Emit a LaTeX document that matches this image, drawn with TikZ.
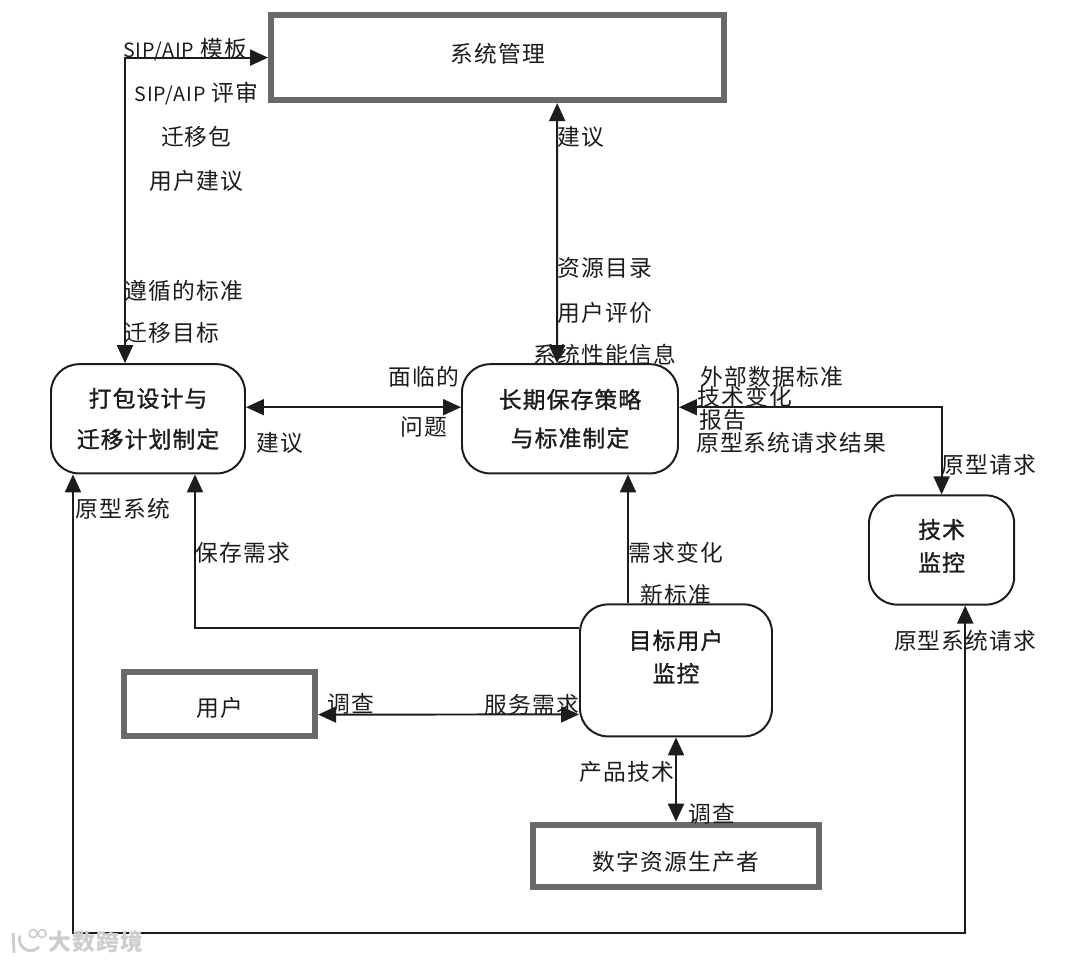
\documentclass[tikz,border=0pt]{standalone}
\usepackage{fontspec}
\setmainfont{Noto Sans CJK SC}[LetterSpace=5]
\newfontfamily\boxfont{Noto Sans CJK SC}[LetterSpace=5, FakeBold=1.3]
\usepackage{tikz}
\usetikzlibrary{arrows.meta, positioning}
\definecolor{inkcolor}{RGB}{28,28,28}
\definecolor{rimcolor}{RGB}{105,105,105}
\definecolor{markcolor}{RGB}{205,205,205}
\newcommand{\sipaip}{{\fontsize{14}{20}\selectfont SIP/AIP}}
\newcommand{\lift}[2]{\raisebox{#1}[\height][\depth]{#2}}
\tikzset{
  process/.style={draw=inkcolor, rounded corners=0.7cm, line width=1.4pt,
                  text=inkcolor, align=center,
                  font=\fontsize{16.2}{23.5}\selectfont\boxfont},
  extern/.style={draw=rimcolor, line width=4.2pt, text=inkcolor, align=center,
                 font=\fontsize{16.2}{20}\selectfont},
  arrow/.style={-{Triangle[length=0.45cm, width=0.4cm]}, line width=1.4pt,
                draw=inkcolor},
  darrow/.style={{Triangle[length=0.45cm, width=0.4cm]}-{Triangle[length=0.45cm, width=0.4cm]},
                 line width=1.4pt, draw=inkcolor},
  label/.style={font=\fontsize{16.2}{20}\selectfont, text=inkcolor},
  wmark/.style={font=\fontsize{16.2}{20}\selectfont\bfseries, text=markcolor},
  wdot/.style={circle, draw=markcolor, line width=1.2pt, minimum size=0.2cm, inner sep=0pt},
}
\begin{document}
\begin{tikzpicture}[on grid]
  \useasboundingbox (0,0) rectangle (27,-24);

  % --- External entities ---
  \node[extern, minimum width=11.33cm, minimum height=2.13cm] (sysmgmt) at (12.44,-1.44)
    {\lift{0.1cm}{系统管理}};

  % --- Processes ---
  \node[process, minimum width=4.85cm, minimum height=2.73cm, below left=9.03cm and 8.74cm of sysmgmt]
    (pack) {打包设计与\\[5.5pt]迁移计划制定};
  \node[process, minimum width=5.4cm, minimum height=2.73cm, right=10.55cm of pack]
    (strategy) {长期保存策略\\[4pt]与标准制定};
  \node[process, minimum width=3.63cm, minimum height=2.73cm, below right=3.28cm and 9.29cm of strategy]
    (tech) {\lift{0.1cm}{技术}\\\lift{0.1cm}{监控}};
  \node[process, minimum width=4.8cm, minimum height=3.3cm, below right=6.29cm and 2.65cm of strategy]
    (target) {\lift{0.34cm}{目标用户}\\\lift{0.34cm}{监控}};

  \node[extern, minimum width=4.78cm, minimum height=1.6cm, below left=0.83cm and 11.41cm of target]
    (user) {\lift{-0.1cm}{用户}};
  \node[extern, minimum width=7.15cm, minimum height=1.55cm, below=4.63cm of target]
    (producer) {\lift{-0.15cm}{数字资源生产者}};

  \coordinate[below=1.93cm of producer] (base);

  % --- Arrows ---
  \draw[darrow] ([xshift=-0.575cm]pack.north) |- (sysmgmt.west);
  \draw[darrow] ([xshift=-0.325cm]strategy.north) -- ([xshift=1.49cm]sysmgmt.south);
  \draw[darrow] ([yshift=0.29cm]pack.east) -- ([yshift=0.29cm]strategy.west);
  \draw[darrow] ([yshift=0.29cm]strategy.east) -| (tech.north);
  \draw[arrow] ([xshift=-1.2cm]target.north) -- ([xshift=1.45cm]strategy.south);
  \draw[arrow] ([yshift=1.05cm]target.west) -| ([xshift=1.175cm]pack.south);
  \draw[darrow] ([yshift=-0.275cm]user.east) -- ([yshift=-1.1cm]target.west);
  \draw[darrow] (target.south) -- (producer.north);
  \draw[darrow] ([xshift=-1.875cm]pack.south) |- (base) -| ([xshift=0.59cm]tech.south);

  % --- Labels ---
  \node[label, left=7.81cm of sysmgmt, yshift=0.19cm] (tmpl) {\sipaip{} 模板};
  \node[label, below right=1.08cm and 0.28cm of tmpl] (review) {\sipaip{} 评审};
  \node[label, below=1.1cm of review] (mpkg) {迁移包};
  \node[label, below=1.08cm of mpkg] (usersug) {用户建议};
  \node[label, above right=3.21cm and 0.9cm of pack] (follow) {遵循的标准};
  \node[label, above right=2.14cm and 0.6cm of pack] (goal) {迁移目标};
  \node[label, below right=1.99cm and 2.09cm of sysmgmt] (sugup) {建议};
  \node[label, above right=3.76cm and 0.875cm of strategy] (catalog) {资源目录};
  \node[label, below=1.1cm of catalog] (rating) {用户评价};
  \node[label, below=1.05cm of rating] (perf) {系统性能信息};
  \node[label, above left=1.04cm and 3.65cm of strategy] (facing) {面临的};
  \node[label, below=1.25cm of facing] (issue) {问题};
  \node[label, below right=0.61cm and 3.3cm of pack] (sugleft) {建议};
  \node[label, above right=1.04cm and 5.05cm of strategy] (extstd) {外部数据标准};
  \node[label, below left=0.5cm and 0.675cm of extstd] (techchg) {技术变化};
  \node[label, below right=0.04cm and 3.83cm of strategy] (report) {报告};
  \node[label, below right=0.61cm and 5.53cm of strategy] (protores) {原型系统请求结果};
  \node[label, above right=2.14cm and 1.19cm of tech] (protoreq) {原型请求};
  \node[label, below left=2.24cm and 0.63cm of pack] (protosys) {原型系统};
  \node[label, below right=3.34cm and 2.38cm of pack] (savereq) {保存需求};
  \node[label, above=2.95cm of target] (demand) {需求变化};
  \node[label, above=1.88cm of target] (newstd) {新标准};
  \node[label, below right=2.26cm and 0.59cm of tech] (protoask) {原型系统请求};
  \node[label, right=3.29cm of user] (surveyu) {调查};
  \node[label, below left=0.85cm and 3.6cm of target] (service) {服务需求};
  \node[label, below left=2.53cm and 1.23cm of target] (prodtech) {产品技术};
  \node[label, above right=1.05cm and 0.9cm of producer] (surveyp) {调查};

  % --- Watermark ---
  \node[wmark, below left=2.15cm and 14.5cm of producer] (wtext) {大数跨境};
  \node[wdot, left=1.35cm of wtext, yshift=0.2cm] (wdotb) {};
  \node[wdot, left=0.22cm of wdotb] (wdota) {};
  \draw[markcolor, line width=2pt] ([xshift=-0.33cm, yshift=-0.05cm]wdota.center) arc[start angle=160, end angle=320, radius=0.28cm];
  \draw[markcolor, line width=2pt] ([xshift=-0.5cm, yshift=0.02cm]wdota.center) -- ++(0.02,-0.5);

\end{tikzpicture}
\end{document}
